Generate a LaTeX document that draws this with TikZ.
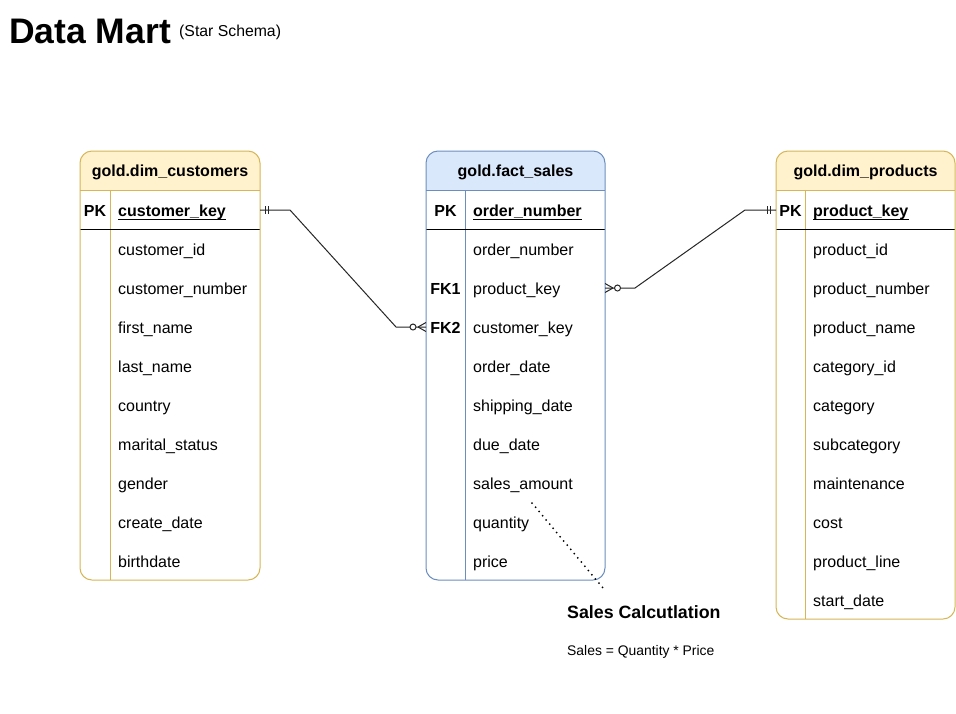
\documentclass[tikz,border=0pt]{standalone}
\usepackage{fontspec}
\setmainfont{Liberation Sans}
\usetikzlibrary{calc}
\definecolor{custF}{HTML}{FFF2CC}
\definecolor{custS}{HTML}{D6B656}
\definecolor{factF}{HTML}{DAE8FC}
\definecolor{factS}{HTML}{6C8EBF}
\newcommand{\ertable}[8]{%
  \begin{scope}
  \clip[rounded corners=12] (#2,#3) rectangle ++(#4,#5);
  \fill[#6] (#2,#3) rectangle ++(#4,39);
  \end{scope}
  \draw[#7, line width=1pt] (#2,#3+39) -- ++(#4,0);
  \draw[#7, line width=1pt] (#8,#3+39) -- (#8,#3+#5);
  \draw[black, line width=1pt] (#2,#3+78) -- ++(#4,0);
  \node[draw=#7, line width=1pt, rounded corners=12, minimum width=#4, minimum height=#5, anchor=north west, inner sep=0pt, outer sep=0pt] (#1) at (#2,#3) {};
}
\begin{document}
\begin{tikzpicture}[x=1pt,y=-1pt,
  fld/.style={anchor=base west, inner sep=0pt, font=\fontsize{16}{19}\selectfont},
  pkfld/.style={anchor=base west, inner sep=0pt, font=\fontsize{16}{19}\selectfont\bfseries},
  keyl/.style={anchor=base, inner sep=0pt, font=\fontsize{16}{19}\selectfont\bfseries},
  hdr/.style={anchor=base, inner sep=0pt, font=\fontsize{16}{19}\selectfont\bfseries},
  conn/.style={line width=1pt, black!85},
  uline/.style={line width=1pt, black},
  ]
\useasboundingbox[fill=white] (0,0) rectangle (956,713);

% title
\node[anchor=base west, inner sep=0pt, font=\fontsize{35.5}{42}\selectfont\bfseries] (title) at (9,43.5) {Data Mart};
\node[anchor=base west, inner sep=0pt, font=\fontsize{15.8}{18}\selectfont] (subtitle) at (179,36) {(Star Schema)};

% tables
\ertable{cust}{80}{151}{180}{429}{custF}{custS}{110}
\ertable{fact}{426}{151}{179}{429}{factF}{factS}{465}
\ertable{prod}{776}{151}{179}{468}{custF}{custS}{805}

% customers
\node[hdr] (custH) at (170,176.5) {gold.dim\_customers};
\node[keyl] (custK) at (95,216.5) {PK};
\node[pkfld] (custPKt) at (118,216.5) {customer\_key};
\draw[uline] ($(custPKt.base west)+(0,2.5)$) -- ($(custPKt.base east)+(0,2.5)$);
\foreach \t [count=\i] in {customer\_id,customer\_number,first\_name,last\_name,country,marital\_status,gender,create\_date,birthdate}
  \node[fld] (custR\i) at (118,216.5+39*\i) {\t};

% fact
\node[hdr] (factH) at (515.5,176.5) {gold.fact\_sales};
\node[keyl] (factK) at (445.5,216.5) {PK};
\node[pkfld] (factPKt) at (473,216.5) {order\_number};
\draw[uline] ($(factPKt.base west)+(0,2.5)$) -- ($(factPKt.base east)+(0,2.5)$);
\foreach \t [count=\i] in {order\_number,product\_key,customer\_key,order\_date,shipping\_date,due\_date,sales\_amount,quantity,price}
  \node[fld] (factR\i) at (473,216.5+39*\i) {\t};
\node[keyl] (factK1) at (445.5,294.5) {FK1};
\node[keyl] (factK2) at (445.5,333.5) {FK2};

% products
\node[hdr] (prodH) at (865.5,176.5) {gold.dim\_products};
\node[keyl] (prodK) at (790.5,216.5) {PK};
\node[pkfld] (prodPKt) at (813,216.5) {product\_key};
\draw[uline] ($(prodPKt.base west)+(0,2.5)$) -- ($(prodPKt.base east)+(0,2.5)$);
\foreach \t [count=\i] in {product\_id,product\_number,product\_name,category\_id,category,subcategory,maintenance,cost,product\_line,start\_date}
  \node[fld] (prodR\i) at (813,216.5+39*\i) {\t};

% connector anchors
\coordinate (cPK) at ($(cust.north east)+(0,59)$);
\coordinate (fFK2) at ($(fact.north west)+(0,176)$);
\coordinate (fFK1) at ($(fact.north east)+(0,137)$);
\coordinate (pPK) at ($(prod.north west)+(0,59)$);

% connector 1: customers -> fact
\draw[conn] (cPK) -- ++(30,0) -- ($(fFK2)+(-30,0)$) -- (fFK2);
\draw[conn] ($(cPK)+(5.5,-4)$) -- ++(0,8);
\draw[conn] ($(cPK)+(8.5,-4)$) -- ++(0,8);
\draw[conn] ($(fFK2)+(-8,0)$) -- ($(fFK2)+(0,-4.5)$);
\draw[conn] ($(fFK2)+(-8,0)$) -- ($(fFK2)+(0,4.5)$);
\draw[conn, fill=white] ($(fFK2)+(-13,0)$) circle[radius=3];

% connector 2: fact -> products
\draw[conn] (fFK1) -- ++(30,0) -- ($(pPK)+(-31,0)$) -- (pPK);
\draw[conn] ($(pPK)+(-9,-4)$) -- ++(0,8);
\draw[conn] ($(pPK)+(-5.5,-4)$) -- ++(0,8);
\draw[conn] ($(fFK1)+(8,0)$) -- ($(fFK1)+(0,-4.5)$);
\draw[conn] ($(fFK1)+(8,0)$) -- ($(fFK1)+(0,4.5)$);
\draw[conn, fill=white] ($(fFK1)+(12.5,0)$) circle[radius=3];

% note
\node[anchor=base west, inner sep=0pt, font=\fontsize{17.8}{21}\selectfont\bfseries] (noteT) at (567,618.5) {Sales Calcutlation};
\node[anchor=base west, inner sep=0pt, font=\fontsize{13.9}{16}\selectfont] (noteF) at (567,655) {Sales = Quantity * Price};
\coordinate (dotA) at (532,503);
\coordinate (dotB) at ($(noteT.north west)+(38,-15)$);
\draw[black, line width=2pt, line cap=round, dash pattern=on 0pt off 5.5pt] (dotA) -- (dotB);
\end{tikzpicture}
\end{document}
